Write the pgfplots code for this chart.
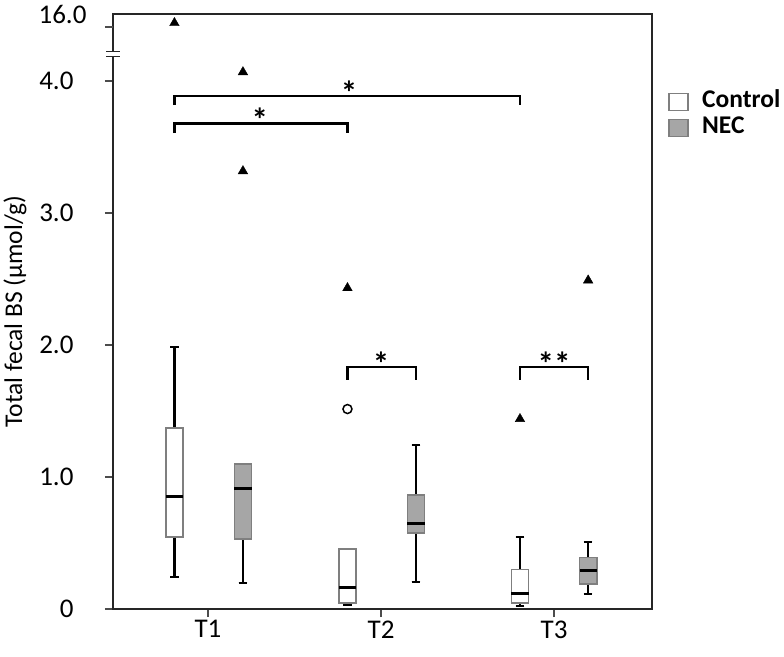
\documentclass[border=0pt]{standalone}
\usepackage{fontspec}
\setmainfont{Carlito}
\usepackage{pgfplots}
\pgfplotsset{compat=1.18}
\usepgfplotslibrary{statistics}
\definecolor{necfill}{HTML}{A6A6A6}
\definecolor{boxedge}{HTML}{7F7F7F}
\begin{document}
\begin{tikzpicture}
\path[use as bounding box] (-113pt,-47pt) rectangle (671pt,609pt);
\begin{axis}[
  scale only axis, width=539pt, height=595pt,
  xmin=0.451, xmax=3.566, ymin=0, ymax=4.508,
  axis line style={line width=2pt, black!85},
  xtick={1,2,3}, xticklabels={T1,T2,T3},
  ytick={0,1,2,3,4}, yticklabels={0,1.0,2.0,3.0,4.0},
  extra y ticks={4.409}, extra y tick labels={16.0},
  extra y tick style={yticklabel style={xshift=13pt, yshift=13pt}},
  tick align=outside, tick pos=left,
  major tick length=8pt,
  tick style={line width=1.5pt, black!70},
  tick label style={font=\fontsize{27}{32}\selectfont},
  yticklabel style={xshift=-28pt},
  ylabel={Total fecal BS (µmol/g)},
  ylabel style={font=\fontsize{25.5}{30}\selectfont, at={(axis description cs:-0.1818,0.5)}, anchor=center},
  clip=false,
  legend style={at={(1,0.878)}, anchor=north west, draw=none, fill=none,
    xshift=13pt, font=\fontsize{25.5}{30}\selectfont\bfseries,
    nodes={text height=16pt, text depth=4pt, inner ysep=3pt},
    row sep=0pt},
  legend cell align=left,
  boxplot/draw direction=y,
  boxplot/every box/.style={draw=boxedge, line width=1.5pt},
  boxplot/every whisker/.style={black, line width=2.2pt},
  boxplot/every median/.style={black, line width=3pt},
]
% legend entries
\addlegendimage{legend image code/.code={\draw[draw=boxedge, fill=white, line width=1.5pt] (0pt,-8.5pt) rectangle (19pt,8.5pt); \path (31pt,0pt);}}
\addlegendentry{Control}
\addlegendimage{legend image code/.code={\draw[draw=boxedge, fill=necfill, line width=1.5pt] (0pt,-8.5pt) rectangle (19pt,8.5pt); \path (31pt,0pt);}}
\addlegendentry{NEC}

% Control boxes
\addplot[forget plot, fill=white, boxplot prepared={draw position=0.806, lower whisker=0.24, lower quartile=0.545, median=0.85, upper quartile=1.37, upper whisker=1.985, box extend=0.1, whisker extend=0.05}] coordinates {};
\addplot[forget plot, fill=white, boxplot prepared={draw position=1.806, lower whisker=0.03, lower quartile=0.045, median=0.16, upper quartile=0.455, upper whisker=0.455, box extend=0.1, whisker extend=0.05}] coordinates {};
\addplot[forget plot, fill=white, boxplot prepared={draw position=2.803, lower whisker=0.02, lower quartile=0.045, median=0.12, upper quartile=0.30, upper whisker=0.545, box extend=0.1, whisker extend=0.05}] coordinates {};
% NEC boxes
\addplot[forget plot, fill=necfill, boxplot prepared={draw position=1.202, lower whisker=0.20, lower quartile=0.53, median=0.91, upper quartile=1.10, upper whisker=1.10, box extend=0.1, whisker extend=0.05}] coordinates {};
\addplot[forget plot, fill=necfill, boxplot prepared={draw position=2.202, lower whisker=0.205, lower quartile=0.575, median=0.645, upper quartile=0.865, upper whisker=1.24, box extend=0.1, whisker extend=0.05}] coordinates {};
\addplot[forget plot, fill=necfill, boxplot prepared={draw position=3.197, lower whisker=0.115, lower quartile=0.19, median=0.29, upper quartile=0.39, upper whisker=0.51, box extend=0.1, whisker extend=0.05}] coordinates {};

% outliers
\addplot[forget plot, only marks, mark=triangle*, mark size=5.5pt, black] coordinates {
 (0.806,4.44) (1.202,4.068) (1.202,3.318) (1.806,2.432) (2.803,1.44) (3.197,2.49)};
\addplot[forget plot, only marks, mark=o, mark size=4.5pt, line width=1.5pt, black] coordinates {(1.806,1.515)};

% significance brackets
\addplot[forget plot, black, line width=2.5pt] coordinates {(0.806,3.818) (0.806,3.886) (2.803,3.886) (2.803,3.818)};
\addplot[forget plot, black, line width=2.5pt] coordinates {(0.806,3.606) (0.806,3.68) (1.806,3.68) (1.806,3.606)};
\addplot[forget plot, black, line width=2.5pt] coordinates {(1.806,1.735) (1.806,1.833) (2.202,1.833) (2.202,1.735)};
\addplot[forget plot, black, line width=2.5pt] coordinates {(2.803,1.735) (2.803,1.833) (3.197,1.833) (3.197,1.735)};
\node[anchor=base, yshift=-8pt, font=\fontsize{33}{40}\selectfont\bfseries] at (axis cs:1.815,3.886) {*};
\node[anchor=base, yshift=-8pt, font=\fontsize{33}{40}\selectfont\bfseries] at (axis cs:1.30,3.68) {*};
\node[anchor=base, yshift=-8pt, font=\fontsize{33}{40}\selectfont\bfseries] at (axis cs:2.0,1.833) {*};
\node[anchor=base, yshift=-8pt, font=\fontsize{33}{40}\selectfont\bfseries] at (axis cs:3.0,1.833) {**};

\coordinate (brk) at (rel axis cs:0,0.9328);
\end{axis}
\fill[white] ([shift={(-3pt,-2.4pt)}]brk) rectangle ([shift={(3pt,2.4pt)}]brk);
\draw[line width=1.5pt, black!85] ([shift={(-7pt,-2.4pt)}]brk) -- ([shift={(7pt,-2.4pt)}]brk);
\draw[line width=1.5pt, black!85] ([shift={(-7pt,2.4pt)}]brk) -- ([shift={(7pt,2.4pt)}]brk);
\end{tikzpicture}
\end{document}
